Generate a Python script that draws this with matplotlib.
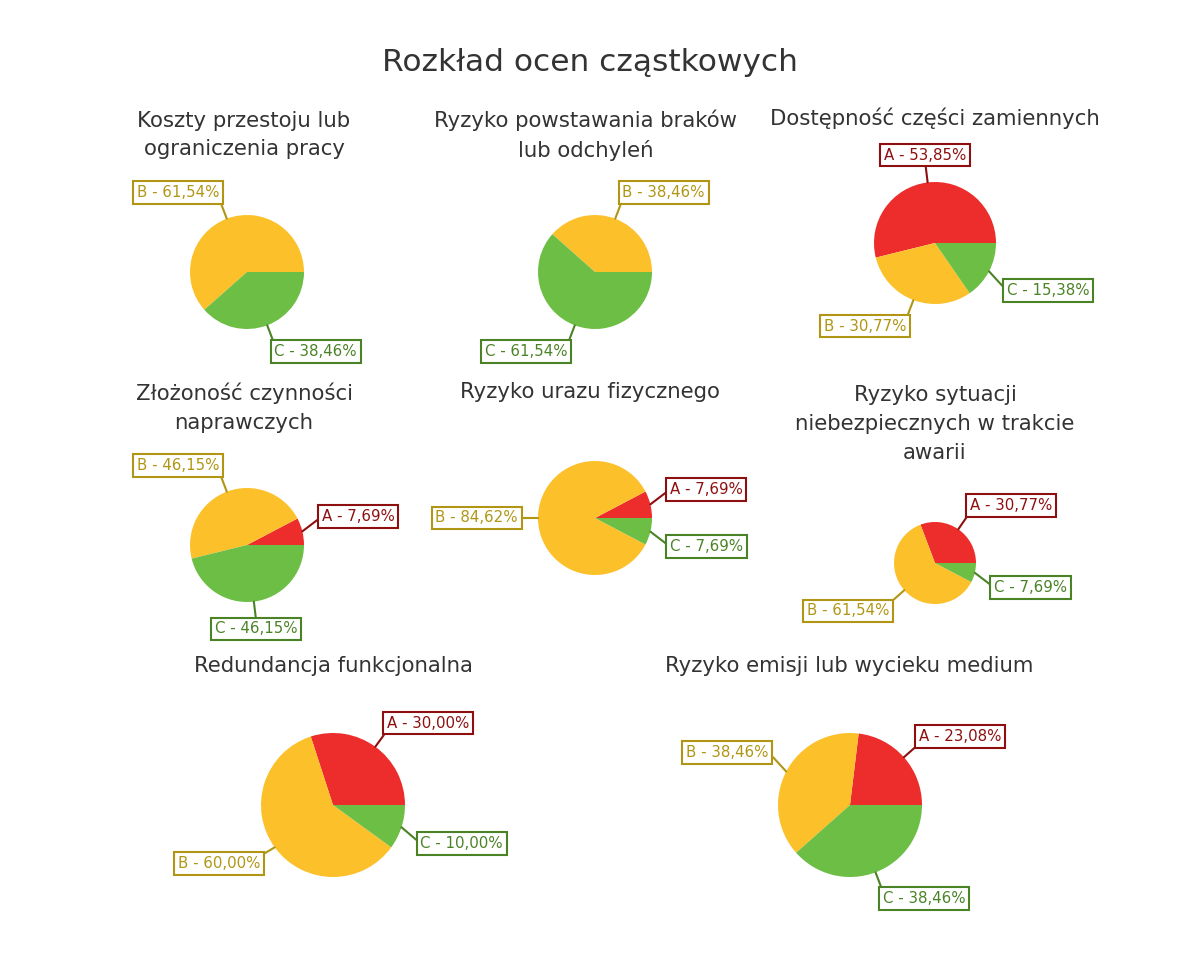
import numpy as np
import matplotlib.pyplot as plt

# %% data
titles = ['Koszty przestoju lub\nograniczenia pracy',
          'Ryzyko powstawania braków\nlub odchyleń',
          'Dostępność części zamiennych',
          'Złożoność czynności\nnaprawczych',
          'Ryzyko urazu fizycznego',
          'Ryzyko sytuacji\nniebezpiecznych w trakcie\nawarii',
          'Redundancja funkcjonalna',
          'Ryzyko emisji lub wycieku medium']
categories = ['A', 'B', 'C']
share_a = [0.00, 0.00, 53.85, 7.69, 7.69, 30.77, 30.00, 23.08]
share_b = [61.54, 38.46, 30.77, 46.15, 84.62, 61.54, 60.00, 38.46]
share_c = [38.46, 61.54, 15.38, 46.15, 7.69, 7.69, 10.00, 38.46]

# %% layout (pixels, y from top)
W, H = 1178, 955
centers = [(247, 272), (595, 272), (935, 243),
           (247, 545), (595, 518), (935, 563),
           (333, 805), (850, 805)]
radii = [57, 57, 61, 57, 57, 41, 72, 72]
title_pos = [(244, 135), (586, 135), (935, 118),
             (244, 408), (590, 392), (935, 424),
             (333, 666), (849, 666)]
nudge = {(6, 1): (260, 856, 'right', 'top')}

slice_colors = ['#ED2C2C', '#FCC12A', '#6CBE45']
label_colors = ['#8E0F0F', '#B09614', '#4A8326']

fig = plt.figure(figsize=(W / 100, H / 100), dpi=100)
ax = fig.add_axes([0, 0, 1, 1])

for i in range(len(titles)):
    vals = [share_a[i], share_b[i], share_c[i]]
    cx, cy = centers[i]
    r = radii[i]
    ax.pie(vals, colors=slice_colors, startangle=0, counterclock=True,
           center=(cx, H - cy), radius=r, frame=True,
           wedgeprops=dict(linewidth=0.6, edgecolor='none'))
    # labels
    start = 0.0
    for k, v in enumerate(vals):
        if v <= 0:
            continue
        mid = np.deg2rad((start + v / 2) * 3.6)
        start += v
        c, s = np.cos(mid), np.sin(mid)
        edge = (cx + r * c, H - cy + r * s)
        tx, ty = cx + (r + 20) * c, H - cy + (r + 20) * s
        ha = 'center' if abs(c) < 0.3 else ('left' if c > 0 else 'right')
        va = 'center' if abs(s) < 0.5 else ('bottom' if s > 0 else 'top')
        if va == 'center' and abs(s) > 0.1:
            ty += 10 * np.sign(s)
        if (i, k) in nudge:
            px, py, ha, va = nudge[(i, k)]
            tx, ty = px, H - py
        rel = ({'left': 0, 'center': 0.5, 'right': 1}[ha],
               {'bottom': 0, 'center': 0.5, 'top': 1}[va])
        col = label_colors[k]
        ax.annotate(f'{categories[k]} - {v:.2f}%'.replace('.', ','),
                    xy=edge, xytext=(tx, ty), ha=ha, va=va,
                    fontsize=10.8, color=col,
                    bbox=dict(boxstyle='square,pad=0.25', fc='white',
                              ec=col, lw=1.5),
                    arrowprops=dict(arrowstyle='-', color=col, lw=1.5,
                                    shrinkA=0, shrinkB=0, relpos=rel))
    tx, ty = title_pos[i]
    ax.text(tx, H - ty, titles[i], ha='center', va='center', fontsize=15.3,
            color='#333333', linespacing=1.55)

ax.text(590, H - 63, 'Rozkład ocen cząstkowych', ha='center', va='center',
        fontsize=22.5, color='#333333')

ax.set_xlim(0, W)
ax.set_ylim(0, H)
ax.set_aspect('auto')
ax.axis('off')
fig.savefig('out.png', dpi=100, facecolor='white')
